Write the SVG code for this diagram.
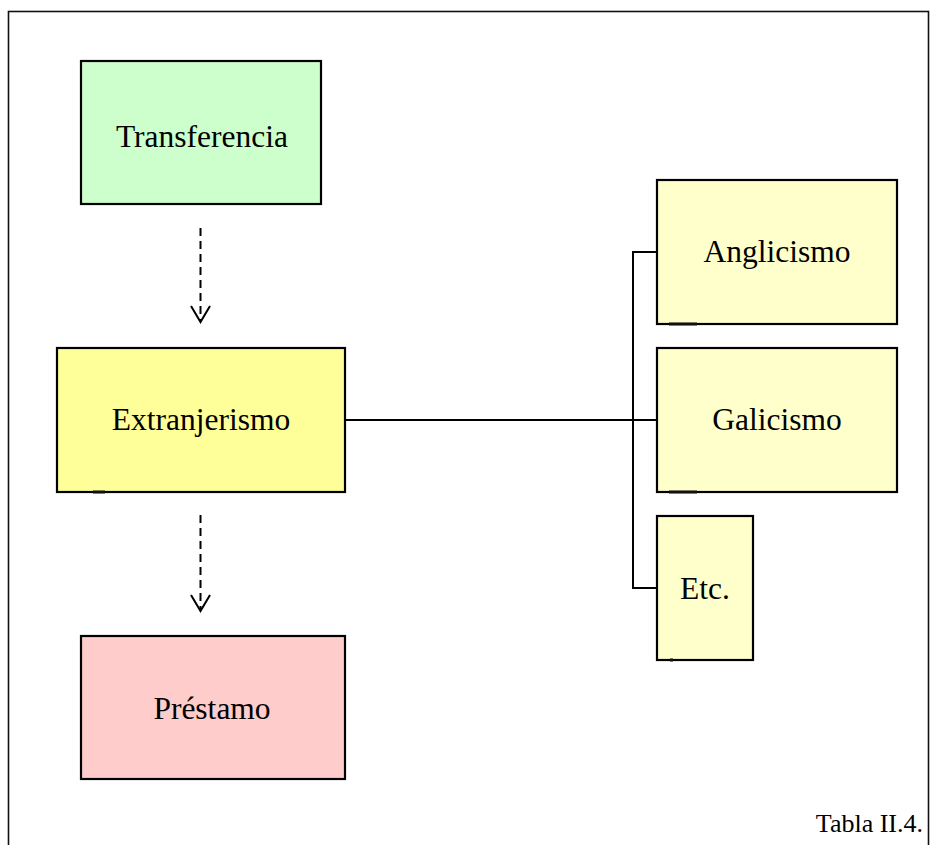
<svg xmlns="http://www.w3.org/2000/svg" width="931" height="845" viewBox="0 0 931 845">
<style>
.box{stroke:#000;stroke-width:2.2}
.lbl{font-family:"Liberation Serif","Times New Roman",serif;font-size:31.5px;fill:#000;text-anchor:middle}
.con{stroke:#000;stroke-width:2;fill:none}
.dash{stroke:#000;stroke-width:2;stroke-dasharray:8 5;fill:none}
.head{stroke:#000;stroke-width:2;fill:none}
.mark{stroke:#111;stroke-width:3}
</style>
<rect x="0" y="0" width="931" height="845" fill="#fff"/>
<rect x="8.5" y="11.5" width="920" height="850" fill="none" stroke="#111" stroke-width="1.6"/>
<g id="connectors">
<line class="dash" x1="200.5" y1="228" x2="200.5" y2="320"/>
<polyline class="head" points="191,306 200.5,322 210,306"/>
<line class="dash" x1="200.5" y1="515" x2="200.5" y2="609"/>
<polyline class="head" points="191,595 200.5,611 210,595"/>
<line class="con" x1="345" y1="420" x2="657" y2="420"/>
<polyline class="con" points="657,252 633,252 633,588 657,588"/>
</g>
<g id="transferencia">
<rect class="box" x="81" y="61" width="240" height="143" fill="#CCFFCC"/>
<text class="lbl" x="202" y="147">Transferencia</text>
</g>
<g id="extranjerismo">
<rect class="box" x="57" y="348" width="288" height="144" fill="#FFFF99"/>
<line class="mark" x1="93" y1="492" x2="105" y2="492"/>
<text class="lbl" x="201" y="430">Extranjerismo</text>
</g>
<g id="prestamo">
<rect class="box" x="81" y="636" width="264" height="143" fill="#FFCCCC"/>
<text class="lbl" x="212" y="719">Préstamo</text>
</g>
<g id="anglicismo">
<rect class="box" x="657" y="180" width="240" height="144" fill="#FFFFCC"/>
<line class="mark" x1="669" y1="324" x2="697" y2="324"/>
<text class="lbl" x="777" y="262">Anglicismo</text>
</g>
<g id="galicismo">
<rect class="box" x="657" y="348" width="240" height="144" fill="#FFFFCC"/>
<line class="mark" x1="669" y1="492" x2="697" y2="492"/>
<text class="lbl" x="777" y="430">Galicismo</text>
</g>
<g id="etc">
<rect class="box" x="657" y="516" width="96" height="144" fill="#FFFFCC"/>
<line class="mark" x1="670" y1="660" x2="673" y2="660"/>
<text class="lbl" x="705" y="599">Etc.</text>
</g>
<text x="923" y="832" font-family="Liberation Serif, Times New Roman, serif" font-size="26" text-anchor="end" fill="#000">Tabla II.4.</text>
</svg>
